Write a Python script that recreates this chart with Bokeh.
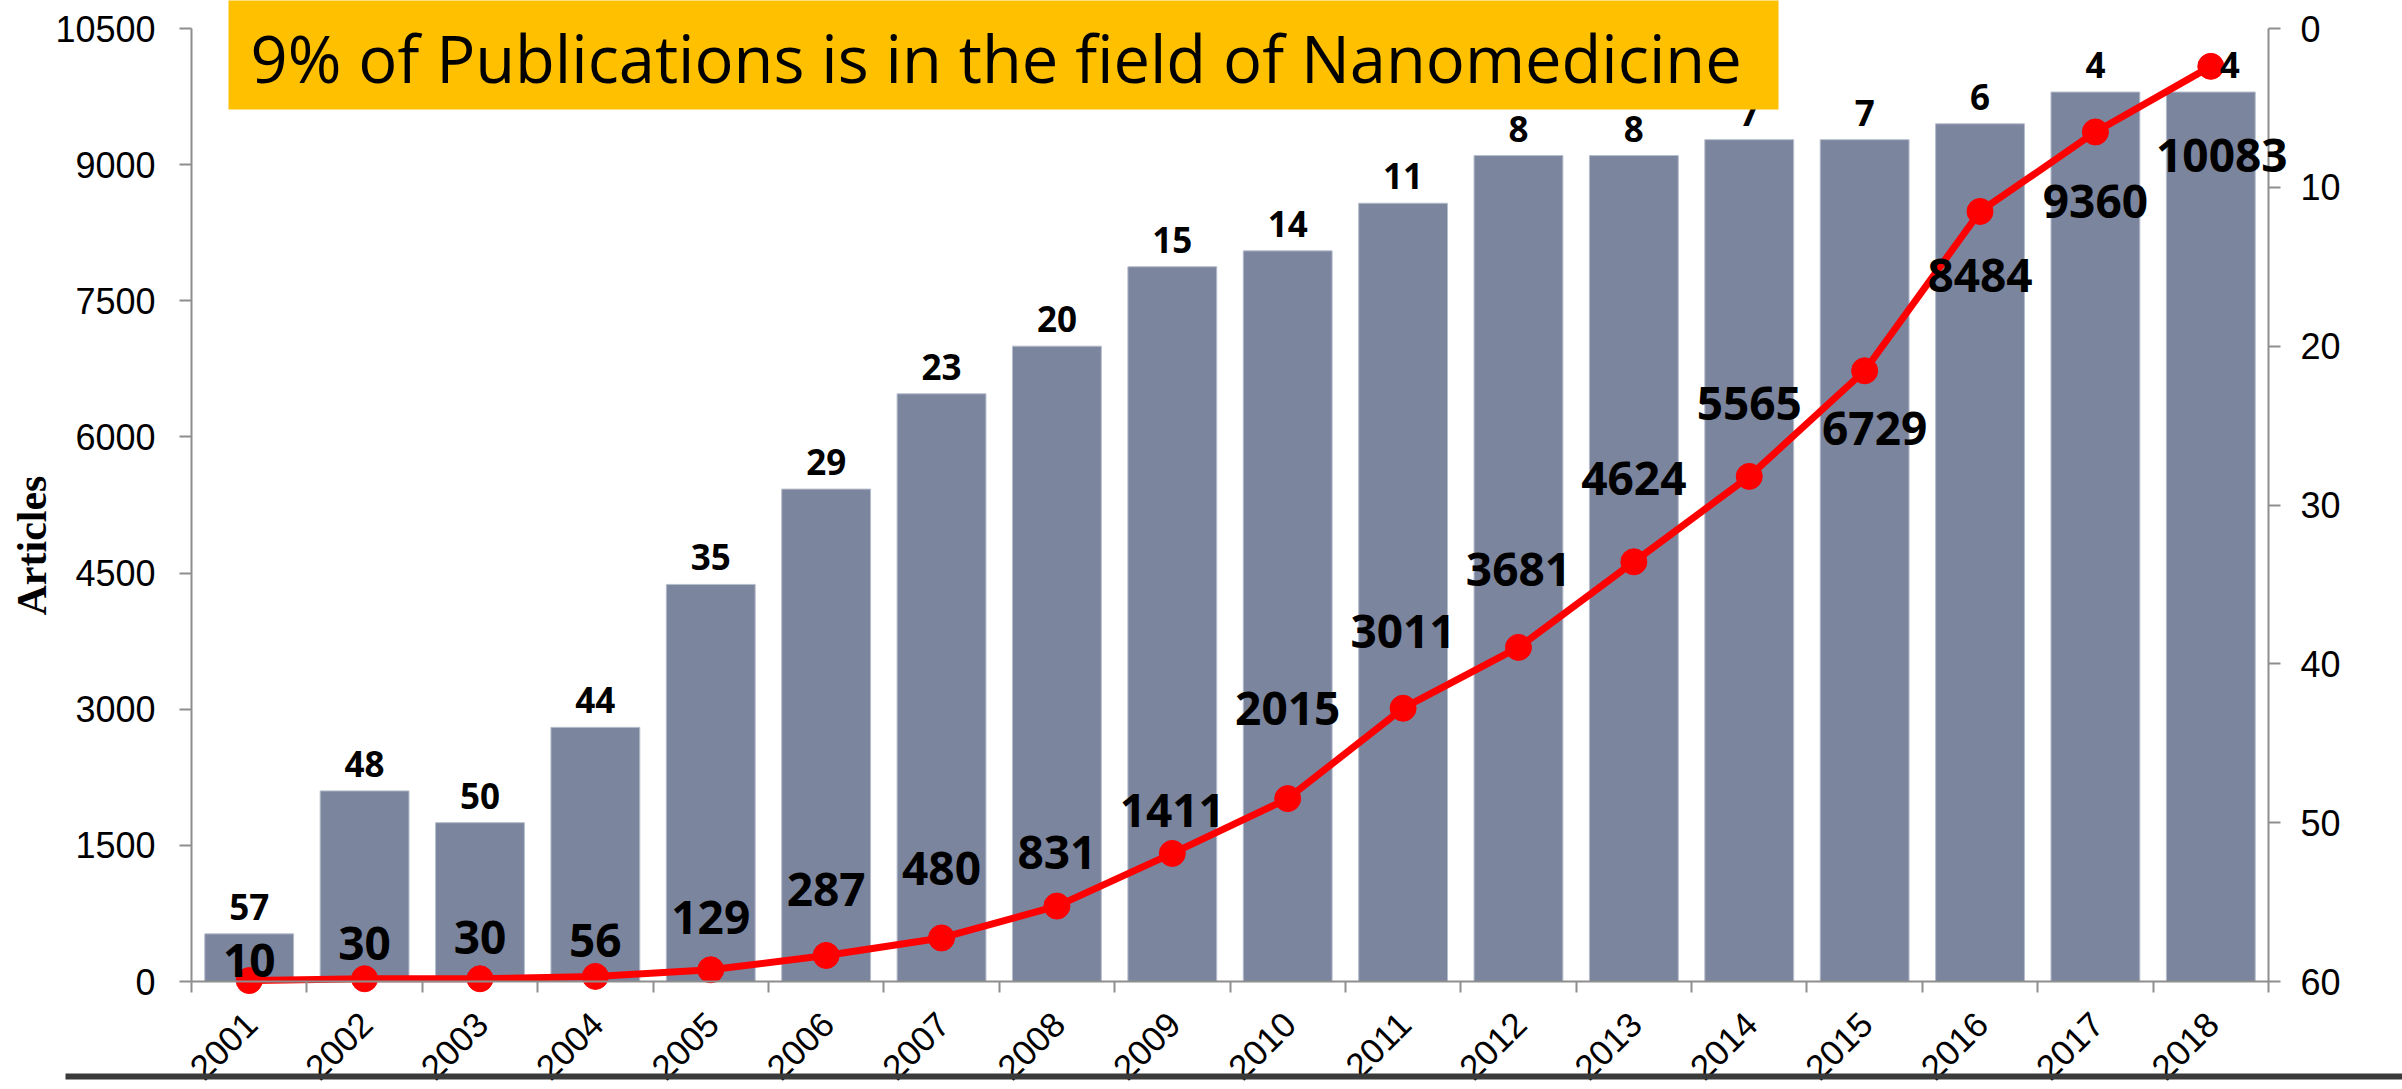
import math
from bokeh.plotting import figure
from bokeh.models import (Range1d, LinearAxis, FixedTicker, ColumnDataSource,
                          LabelSet, Label, BoxAnnotation)
from bokeh.core.properties import value
from bokeh.embed import file_html
from bokeh.resources import INLINE

# ---------------- data ----------------
years = ["2001", "2002", "2003", "2004", "2005", "2006", "2007", "2008", "2009",
         "2010", "2011", "2012", "2013", "2014", "2015", "2016", "2017", "2018"]
articles = [10, 30, 30, 56, 129, 287, 480, 831, 1411, 2015, 3011, 3681, 4624,
            5565, 6729, 8484, 9360, 10083]
ranks = [57, 48, 50, 44, 35, 29, 23, 20, 15, 14, 11, 8, 8, 7, 7, 6, 4, 4]
left_ticks = [0, 1500, 3000, 4500, 6000, 7500, 9000, 10500]
right_ticks = [0, 10, 20, 30, 40, 50, 60]
title_text = "9% of Publications is in the field of Nanomedicine"
y_title = "Articles"

# ---------------- label placement styles (screen px) ----------------
article_label_dy = [20, 35, 41, 36, 52, 66, 69, 54, 43, 90, 77, 78, 83, 73,
                    -58, -64, -70, -89]
article_label_dx = [0] * 14 + [10, 0, 0, 11]
rank_label_dx = [0] * 17 + [19]

# ---------------- layout (page pixels) ----------------
W, H = 2402, 1089
PLOT_L, PLOT_R, PLOT_T, PLOT_B = 191, 2268, 28, 981
AX = "#8E8E8E"
BAR = "#7B859E"
SANS = "Liberation Sans"

n = len(years)
xs = [i + 0.5 for i in range(n)]
y_max = left_ticks[-1]
r_max = right_ticks[-1]

XU = (PLOT_R - PLOT_L) / n            # px per category
YU = (PLOT_B - PLOT_T) / y_max        # px per article
RU = (PLOT_B - PLOT_T) / r_max        # px per rank

def dx(px):   # page x -> data x
    return (px - PLOT_L) / XU

def dy(py):   # page y -> data y (left axis)
    return (PLOT_B - py) / YU

x_range = Range1d(dx(0), dx(W))
y_range = Range1d(dy(H), dy(0))
r_range = Range1d(r_max + (H - PLOT_B) / RU, -PLOT_T / RU)

p = figure(width=W, height=H, x_range=x_range, y_range=y_range, title=None,
           output_backend="svg", toolbar_location=None, min_border=0,
           x_axis_location=None, y_axis_location=None)
p.extra_y_ranges = {"right": r_range}
p.xgrid.visible = False
p.ygrid.visible = False
p.outline_line_color = None
p.background_fill_color = "white"
p.border_fill_color = "white"

def style_axis(a, standoff):
    a.major_tick_in = 0
    a.major_tick_out = 12
    a.minor_tick_line_color = None
    a.major_tick_line_color = AX
    a.major_tick_line_width = 2
    a.axis_line_color = AX
    a.axis_line_width = 2
    a.major_label_text_font = SANS
    a.major_label_text_font_size = "36px"
    a.major_label_text_color = "black"
    a.major_label_standoff = standoff

# x axis: only boundary ticks
xa = LinearAxis(ticker=FixedTicker(ticks=[], minor_ticks=list(range(n + 1))),
                fixed_location=0, bounds=(0, n))
xa.major_tick_line_color = None
xa.minor_tick_in = 0
xa.minor_tick_out = 11
xa.minor_tick_line_color = AX
xa.minor_tick_line_width = 2
xa.axis_line_color = AX
xa.axis_line_width = 2
p.add_layout(xa, "below")

ya = LinearAxis(ticker=FixedTicker(ticks=left_ticks), fixed_location=0, bounds=(0, y_max))
style_axis(ya, 24)
p.add_layout(ya, "left")

ra = LinearAxis(y_range_name="right", ticker=FixedTicker(ticks=right_ticks),
                fixed_location=n, bounds=(0, r_max))
style_axis(ra, 20)
p.add_layout(ra, "right")

# bars (rank, reversed right axis)
bar_src = ColumnDataSource(dict(x=xs, rank=ranks, txt=[str(r) for r in ranks],
                                dx=rank_label_dx))
p.vbar(x="x", top="rank", bottom=r_max, width=0.77, source=bar_src, y_range_name="right",
       fill_color=BAR, line_color="#B6BDCC", line_width=1)

# articles line
line_src = ColumnDataSource(dict(x=xs, y=articles, txt=[str(a) for a in articles],
                                 dx=article_label_dx, dy=article_label_dy))
p.line(x="x", y="y", source=line_src, line_color="#FF0000", line_width=7,
       line_join="round", line_cap="round")
p.scatter(x="x", y="y", source=line_src, size=26, fill_color="#FF0000", line_color="#FF0000")

# value labels
p.add_layout(LabelSet(x="x", y="rank", text="txt", source=bar_src, y_range_name="right",
                      x_offset="dx", y_offset=27, text_align="center", text_baseline="middle",
                      text_font=value("Open Sans"), text_font_style="bold",
                      text_font_size=value("35px"), text_color="black"))
p.add_layout(LabelSet(x="x", y="y", text="txt", source=line_src,
                      x_offset="dx", y_offset="dy", text_align="center", text_baseline="middle",
                      text_font=value("Open Sans"), text_font_style="bold",
                      text_font_size=value("46px"), text_color="black"))

# category labels (rotated 45 degrees)
year_src = ColumnDataSource(dict(x=xs, txt=years))
p.add_layout(LabelSet(x="x", y=dy(1018), text="txt", source=year_src, angle=45,
                      angle_units="deg", x_offset=2, text_align="right",
                      text_baseline="middle",
                      text_font=value(SANS), text_font_size=value("35px"),
                      text_color="black"))

# title box
p.add_layout(BoxAnnotation(left=dx(228), right=dx(1778), bottom=dy(109), top=dy(-20),
                           fill_color="#FFC000", fill_alpha=1.0, line_color=None))
p.add_layout(Label(x=dx(250), y=dy(57), text=title_text, text_font="Open Sans",
                   text_font_size="65px", text_color="black", text_baseline="alphabetic"))

# y title
p.add_layout(Label(x=dx(31), y=dy(545), text=y_title, angle=90, angle_units="deg",
                   text_align="center", text_baseline="middle",
                   text_font="Liberation Serif", text_font_style="bold",
                   text_font_size="42px", text_color="black"))

# slide rule at bottom
p.add_layout(BoxAnnotation(left=dx(65), right=dx(W + 20), bottom=dy(1079), top=dy(1073),
                           fill_color="#3A3A3A", fill_alpha=1.0, line_color=None))

open("out.html", "w").write(file_html(p, INLINE))
